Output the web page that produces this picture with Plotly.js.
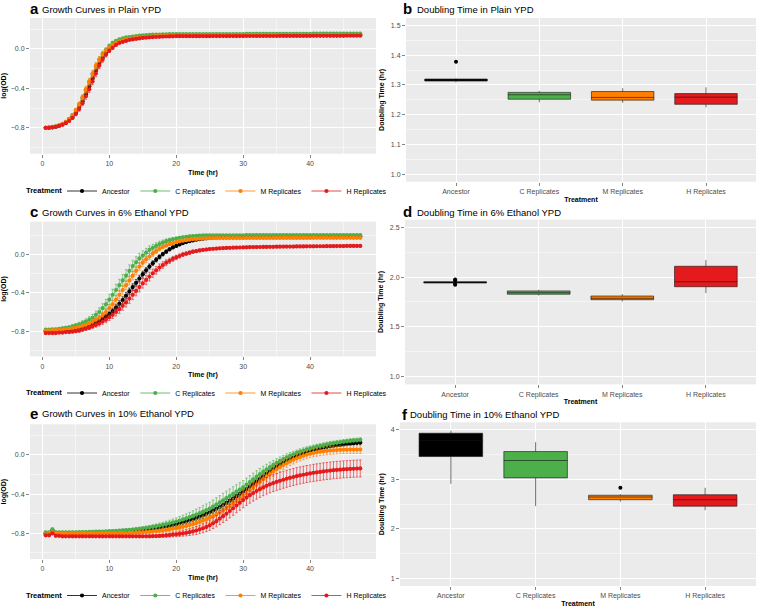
<!DOCTYPE html>
<html>
<head>
<meta charset="utf-8">
<script src="https://cdn.plot.ly/plotly-3.0.1.min.js"></script>
<style>html,body{margin:0;padding:0;background:#fff;}#chart{width:760px;height:610px;}</style>
</head>
<body>
<div id="chart"></div>
<script>
// ---------- data ----------
const treatments = ['Ancestor', 'C Replicates', 'M Replicates', 'H Replicates'];
const colors = ['#000000', '#4DAF4A', '#FF7F00', '#E41A1C'];

const timeHr = [
0.5,1,1.5,2,2.5,3,3.5,4,4.5,5,
5.5,6,6.5,7,7.5,8,8.5,9,9.5,10,
10.5,11,11.5,12,12.5,13,13.5,14,14.5,15,
15.5,16,16.5,17,17.5,18,18.5,19,19.5,20,
20.5,21,21.5,22,22.5,23,23.5,24,24.5,25,
25.5,26,26.5,27,27.5,28,28.5,29,29.5,30,
30.5,31,31.5,32,32.5,33,33.5,34,34.5,35,
35.5,36,36.5,37,37.5,38,38.5,39,39.5,40,
40.5,41,41.5,42,42.5,43,43.5,44,44.5,45,
45.5,46,46.5,47,47.5];

// Panel a: Plain YPD
const plainAnc = [
-0.80,-0.80,-0.795,-0.79,-0.78,-0.765,-0.75,-0.72,-0.69,-0.65,
-0.59,-0.53,-0.46,-0.38,-0.30,-0.22,-0.15,-0.09,-0.04,0.00,
0.03,0.055,0.07,0.08,0.09,0.10,0.105,0.11,0.115,0.118,
0.121,0.124,0.126,0.128,0.13,0.131,0.132,0.133,0.134,0.135,
0.135,0.135,0.135,0.135,0.135,0.135,0.135,0.135,0.135,0.135,
0.136,0.136,0.136,0.136,0.136,0.136,0.136,0.136,0.136,0.136,
0.137,0.137,0.137,0.137,0.137,0.137,0.137,0.137,0.137,0.137,
0.138,0.138,0.138,0.138,0.138,0.138,0.138,0.138,0.138,0.138,
0.139,0.139,0.139,0.139,0.139,0.139,0.139,0.139,0.139,0.139,
0.14,0.14,0.14,0.14,0.14];
const plainC = [
-0.80,-0.795,-0.79,-0.785,-0.775,-0.76,-0.74,-0.71,-0.67,-0.625,
-0.565,-0.50,-0.42,-0.34,-0.26,-0.18,-0.11,-0.05,-0.01,0.03,
0.06,0.08,0.095,0.105,0.115,0.12,0.125,0.13,0.134,0.137,
0.139,0.141,0.143,0.144,0.145,0.146,0.147,0.148,0.148,0.149,
0.149,0.149,0.149,0.149,0.149,0.149,0.149,0.149,0.149,0.149,
0.15,0.15,0.15,0.15,0.15,0.15,0.15,0.15,0.15,0.15,
0.151,0.151,0.151,0.151,0.151,0.151,0.151,0.151,0.151,0.151,
0.152,0.152,0.152,0.152,0.152,0.152,0.152,0.152,0.152,0.152,
0.153,0.153,0.153,0.153,0.153,0.153,0.153,0.153,0.153,0.153,
0.154,0.154,0.154,0.154,0.154];
const plainM = [
-0.80,-0.795,-0.79,-0.785,-0.775,-0.76,-0.74,-0.71,-0.67,-0.62,
-0.56,-0.49,-0.41,-0.33,-0.25,-0.17,-0.11,-0.06,-0.02,0.01,
0.04,0.06,0.075,0.085,0.095,0.10,0.105,0.11,0.114,0.118,
0.121,0.124,0.126,0.128,0.13,0.131,0.132,0.133,0.134,0.135,
0.136,0.136,0.136,0.136,0.136,0.136,0.136,0.136,0.136,0.136,
0.137,0.137,0.137,0.137,0.137,0.137,0.137,0.137,0.137,0.137,
0.138,0.138,0.138,0.138,0.138,0.138,0.138,0.138,0.138,0.138,
0.139,0.139,0.139,0.139,0.139,0.139,0.139,0.139,0.139,0.139,
0.14,0.14,0.14,0.14,0.14,0.14,0.14,0.14,0.14,0.14,
0.141,0.141,0.141,0.141,0.141];
const plainH = [
-0.80,-0.80,-0.795,-0.79,-0.78,-0.77,-0.75,-0.73,-0.70,-0.66,
-0.61,-0.55,-0.48,-0.41,-0.33,-0.25,-0.17,-0.11,-0.06,-0.02,
0.01,0.04,0.06,0.07,0.08,0.09,0.095,0.10,0.105,0.11,
0.113,0.116,0.118,0.12,0.122,0.124,0.125,0.126,0.127,0.128,
0.128,0.128,0.128,0.128,0.128,0.128,0.128,0.128,0.128,0.128,
0.129,0.129,0.129,0.129,0.129,0.129,0.129,0.129,0.129,0.129,
0.13,0.13,0.13,0.13,0.13,0.13,0.13,0.13,0.13,0.13,
0.131,0.131,0.131,0.131,0.131,0.131,0.131,0.131,0.131,0.131,
0.132,0.132,0.132,0.132,0.132,0.132,0.132,0.132,0.132,0.132,
0.133,0.133,0.133,0.133,0.133];
const plainErr = [
0.005,0.005,0.005,0.005,0.005,0.005,0.01,0.012,0.015,0.018,
0.022,0.026,0.03,0.032,0.033,0.032,0.03,0.027,0.022,0.018,
0.015,0.012,0.01,0.008,0.007,0.007,0.007,0.007,0.007,0.006,
0.005,0.005,0.005,0.005,0.005,0.005,0.005,0.005,0.005,0.005,
0.005,0.005,0.005,0.005,0.005,0.005,0.005,0.005,0.005,0.005,
0.005,0.005,0.005,0.005,0.005,0.005,0.005,0.005,0.005,0.005,
0.005,0.005,0.005,0.005,0.005,0.005,0.005,0.005,0.005,0.005,
0.005,0.005,0.005,0.005,0.005,0.005,0.005,0.005,0.005,0.005,
0.005,0.005,0.005,0.005,0.005,0.005,0.005,0.005,0.005,0.005,
0.005,0.005,0.005,0.005,0.005];

// Panel c: 6% Ethanol YPD
const eth6Anc = [
-0.80,-0.80,-0.80,-0.795,-0.795,-0.79,-0.79,-0.785,-0.78,-0.775,
-0.77,-0.76,-0.75,-0.74,-0.725,-0.71,-0.69,-0.67,-0.645,-0.62,
-0.59,-0.555,-0.515,-0.475,-0.43,-0.385,-0.34,-0.295,-0.25,-0.205,
-0.165,-0.125,-0.09,-0.055,-0.025,0.005,0.03,0.055,0.075,0.09,
0.105,0.12,0.13,0.14,0.148,0.155,0.16,0.165,0.17,0.174,
0.177,0.179,0.18,0.181,0.182,0.183,0.184,0.185,0.185,0.186,
0.187,0.187,0.187,0.187,0.187,0.187,0.187,0.187,0.187,0.187,
0.188,0.188,0.188,0.188,0.188,0.188,0.188,0.188,0.188,0.188,
0.189,0.189,0.189,0.189,0.189,0.189,0.189,0.189,0.189,0.189,
0.19,0.19,0.19,0.19,0.19];
const eth6C = [
-0.785,-0.785,-0.78,-0.78,-0.775,-0.77,-0.765,-0.76,-0.75,-0.74,
-0.73,-0.715,-0.70,-0.68,-0.66,-0.63,-0.60,-0.56,-0.52,-0.47,
-0.42,-0.37,-0.32,-0.27,-0.22,-0.17,-0.12,-0.08,-0.04,-0.01,
0.02,0.05,0.07,0.09,0.11,0.125,0.14,0.15,0.16,0.168,
0.175,0.18,0.185,0.19,0.193,0.196,0.198,0.20,0.201,0.202,
0.202,0.202,0.202,0.202,0.202,0.202,0.202,0.202,0.202,0.202,
0.203,0.203,0.203,0.203,0.203,0.203,0.203,0.203,0.203,0.203,
0.203,0.203,0.203,0.203,0.203,0.203,0.203,0.203,0.203,0.203,
0.204,0.204,0.204,0.204,0.204,0.204,0.204,0.204,0.204,0.204,
0.204,0.204,0.204,0.204,0.204];
const eth6M = [
-0.795,-0.795,-0.79,-0.79,-0.79,-0.785,-0.78,-0.775,-0.77,-0.765,
-0.755,-0.745,-0.735,-0.72,-0.70,-0.68,-0.66,-0.63,-0.60,-0.56,
-0.52,-0.47,-0.42,-0.37,-0.32,-0.27,-0.22,-0.17,-0.125,-0.085,
-0.05,-0.02,0.01,0.035,0.06,0.08,0.095,0.11,0.12,0.13,
0.138,0.145,0.15,0.155,0.16,0.163,0.166,0.168,0.17,0.171,
0.172,0.172,0.172,0.172,0.172,0.172,0.172,0.172,0.172,0.172,
0.173,0.173,0.173,0.173,0.173,0.173,0.173,0.173,0.173,0.173,
0.174,0.174,0.174,0.174,0.174,0.174,0.174,0.174,0.174,0.174,
0.175,0.175,0.175,0.175,0.175,0.175,0.175,0.175,0.175,0.175,
0.175,0.175,0.175,0.175,0.175];
const eth6H = [
-0.82,-0.82,-0.82,-0.82,-0.815,-0.815,-0.81,-0.81,-0.805,-0.80,
-0.795,-0.785,-0.775,-0.765,-0.75,-0.735,-0.72,-0.70,-0.68,-0.655,
-0.63,-0.60,-0.57,-0.535,-0.50,-0.46,-0.42,-0.38,-0.34,-0.30,
-0.265,-0.23,-0.195,-0.165,-0.135,-0.11,-0.085,-0.065,-0.045,-0.03,
-0.015,0.00,0.01,0.02,0.03,0.037,0.043,0.048,0.053,0.057,
0.06,0.063,0.065,0.067,0.069,0.07,0.072,0.073,0.074,0.075,
0.076,0.077,0.078,0.078,0.079,0.08,0.08,0.081,0.081,0.082,
0.082,0.083,0.083,0.084,0.084,0.085,0.085,0.085,0.086,0.086,
0.086,0.087,0.087,0.087,0.088,0.088,0.088,0.089,0.089,0.089,
0.09,0.09,0.09,0.09,0.09];
const eth6AncErr = [
0.006,0.006,0.006,0.006,0.006,0.007,0.007,0.008,0.008,0.009,
0.01,0.011,0.012,0.014,0.016,0.018,0.02,0.022,0.025,0.027,
0.029,0.031,0.033,0.034,0.035,0.035,0.035,0.034,0.033,0.031,
0.029,0.027,0.025,0.023,0.021,0.019,0.017,0.015,0.014,0.013,
0.012,0.011,0.01,0.01,0.009,0.009,0.008,0.008,0.008,0.007,
0.007,0.007,0.007,0.007,0.007,0.007,0.007,0.007,0.007,0.007,
0.007,0.007,0.007,0.007,0.007,0.007,0.007,0.007,0.007,0.007,
0.007,0.007,0.007,0.007,0.007,0.007,0.007,0.007,0.007,0.007,
0.007,0.007,0.007,0.007,0.007,0.007,0.007,0.007,0.007,0.007,
0.007,0.007,0.007,0.007,0.007];
const eth6CErr = [
0.01,0.01,0.01,0.012,0.012,0.014,0.015,0.016,0.018,0.02,
0.022,0.025,0.028,0.031,0.035,0.039,0.043,0.047,0.051,0.055,
0.058,0.06,0.062,0.063,0.063,0.062,0.06,0.057,0.053,0.049,
0.045,0.041,0.037,0.033,0.03,0.027,0.024,0.021,0.019,0.017,
0.015,0.014,0.013,0.012,0.011,0.011,0.01,0.01,0.01,0.01,
0.008,0.008,0.008,0.008,0.008,0.008,0.008,0.008,0.008,0.008,
0.008,0.008,0.008,0.008,0.008,0.008,0.008,0.008,0.008,0.008,
0.008,0.008,0.008,0.008,0.008,0.008,0.008,0.008,0.008,0.008,
0.008,0.008,0.008,0.008,0.008,0.008,0.008,0.008,0.008,0.008,
0.008,0.008,0.008,0.008,0.008];
const eth6MErr = [
0.008,0.008,0.008,0.008,0.009,0.009,0.01,0.01,0.011,0.012,
0.013,0.014,0.016,0.018,0.02,0.022,0.025,0.028,0.031,0.034,
0.037,0.04,0.042,0.044,0.045,0.045,0.044,0.042,0.04,0.037,
0.034,0.031,0.028,0.025,0.022,0.02,0.018,0.016,0.014,0.013,
0.012,0.011,0.01,0.01,0.009,0.009,0.009,0.008,0.008,0.008,
0.008,0.008,0.008,0.008,0.008,0.008,0.008,0.008,0.008,0.008,
0.008,0.008,0.008,0.008,0.008,0.008,0.008,0.008,0.008,0.008,
0.008,0.008,0.008,0.008,0.008,0.008,0.008,0.008,0.008,0.008,
0.008,0.008,0.008,0.008,0.008,0.008,0.008,0.008,0.008,0.008,
0.008,0.008,0.008,0.008,0.008];
const eth6HErr = [
0.01,0.01,0.01,0.01,0.01,0.011,0.011,0.012,0.012,0.013,
0.014,0.015,0.017,0.019,0.021,0.023,0.026,0.029,0.032,0.035,
0.038,0.041,0.044,0.046,0.048,0.05,0.051,0.051,0.051,0.05,
0.048,0.046,0.043,0.04,0.037,0.034,0.031,0.028,0.026,0.024,
0.022,0.02,0.019,0.018,0.017,0.016,0.015,0.014,0.014,0.013,
0.012,0.012,0.012,0.012,0.012,0.012,0.012,0.012,0.012,0.012,
0.012,0.012,0.012,0.012,0.012,0.012,0.012,0.012,0.012,0.012,
0.012,0.012,0.012,0.012,0.012,0.012,0.012,0.012,0.012,0.012,
0.012,0.012,0.012,0.012,0.012,0.012,0.012,0.012,0.012,0.012,
0.012,0.012,0.012,0.012,0.012];

// Panel e: 10% Ethanol YPD
const eth10Anc = [
-0.80,-0.80,-0.77,-0.795,-0.795,-0.795,-0.795,-0.795,-0.795,-0.795,
-0.795,-0.795,-0.794,-0.793,-0.792,-0.791,-0.79,-0.789,-0.788,-0.787,
-0.786,-0.785,-0.783,-0.781,-0.779,-0.777,-0.775,-0.772,-0.769,-0.766,
-0.762,-0.758,-0.753,-0.748,-0.742,-0.736,-0.729,-0.722,-0.714,-0.706,
-0.697,-0.688,-0.678,-0.667,-0.655,-0.643,-0.63,-0.616,-0.601,-0.585,
-0.568,-0.55,-0.531,-0.511,-0.49,-0.468,-0.445,-0.421,-0.397,-0.373,
-0.348,-0.322,-0.296,-0.27,-0.244,-0.218,-0.193,-0.168,-0.144,-0.121,
-0.099,-0.078,-0.058,-0.04,-0.023,-0.007,0.007,0.02,0.032,0.043,
0.053,0.062,0.07,0.077,0.084,0.09,0.095,0.1,0.104,0.108,
0.112,0.116,0.12,0.123,0.126];
const eth10C = [
-0.79,-0.79,-0.76,-0.79,-0.79,-0.79,-0.79,-0.79,-0.79,-0.79,
-0.788,-0.787,-0.786,-0.785,-0.784,-0.783,-0.782,-0.781,-0.78,-0.778,
-0.776,-0.774,-0.772,-0.77,-0.767,-0.764,-0.761,-0.757,-0.753,-0.749,
-0.744,-0.739,-0.733,-0.727,-0.72,-0.713,-0.705,-0.697,-0.688,-0.679,
-0.669,-0.658,-0.647,-0.635,-0.622,-0.608,-0.594,-0.579,-0.563,-0.547,
-0.527,-0.506,-0.485,-0.463,-0.441,-0.419,-0.397,-0.375,-0.353,-0.331,
-0.303,-0.276,-0.249,-0.222,-0.196,-0.171,-0.147,-0.124,-0.102,-0.081,
-0.061,-0.042,-0.025,-0.009,0.006,0.02,0.033,0.045,0.056,0.066,
0.076,0.085,0.093,0.101,0.108,0.115,0.121,0.127,0.132,0.137,
0.141,0.145,0.149,0.152,0.155];
const eth10M = [
-0.81,-0.80,-0.79,-0.80,-0.80,-0.80,-0.80,-0.80,-0.80,-0.80,
-0.80,-0.80,-0.80,-0.80,-0.80,-0.80,-0.80,-0.80,-0.80,-0.80,
-0.80,-0.80,-0.799,-0.798,-0.797,-0.796,-0.795,-0.793,-0.791,-0.789,
-0.787,-0.784,-0.781,-0.778,-0.774,-0.77,-0.765,-0.76,-0.754,-0.748,
-0.741,-0.733,-0.725,-0.716,-0.706,-0.695,-0.683,-0.67,-0.656,-0.641,
-0.625,-0.607,-0.588,-0.567,-0.545,-0.522,-0.498,-0.473,-0.447,-0.42,
-0.392,-0.363,-0.334,-0.305,-0.276,-0.248,-0.221,-0.195,-0.17,-0.146,
-0.124,-0.103,-0.084,-0.066,-0.05,-0.035,-0.021,-0.009,0.002,0.012,
0.02,0.027,0.033,0.038,0.042,0.045,0.048,0.05,0.052,0.053,
0.054,0.055,0.055,0.055,0.055];
const eth10H = [
-0.82,-0.82,-0.80,-0.825,-0.825,-0.83,-0.83,-0.83,-0.83,-0.83,
-0.83,-0.83,-0.83,-0.83,-0.83,-0.83,-0.83,-0.83,-0.83,-0.83,
-0.83,-0.83,-0.83,-0.83,-0.83,-0.83,-0.83,-0.83,-0.83,-0.83,
-0.83,-0.83,-0.829,-0.828,-0.826,-0.824,-0.821,-0.818,-0.814,-0.81,
-0.806,-0.801,-0.795,-0.788,-0.78,-0.771,-0.76,-0.748,-0.734,-0.718,
-0.697,-0.676,-0.65,-0.625,-0.60,-0.572,-0.544,-0.516,-0.488,-0.46,
-0.435,-0.411,-0.389,-0.368,-0.349,-0.331,-0.315,-0.3,-0.287,-0.275,
-0.264,-0.253,-0.243,-0.234,-0.225,-0.217,-0.209,-0.202,-0.195,-0.189,
-0.183,-0.178,-0.173,-0.168,-0.164,-0.16,-0.156,-0.153,-0.15,-0.147,
-0.145,-0.143,-0.141,-0.139,-0.138];
const eth10AncErr = [
0.008,0.008,0.008,0.008,0.008,0.008,0.008,0.008,0.008,0.008,
0.008,0.008,0.008,0.008,0.008,0.008,0.008,0.008,0.008,0.008,
0.009,0.009,0.01,0.01,0.011,0.011,0.012,0.013,0.014,0.015,
0.016,0.017,0.018,0.019,0.02,0.021,0.022,0.023,0.024,0.025,
0.026,0.027,0.028,0.029,0.03,0.031,0.032,0.033,0.034,0.035,
0.036,0.036,0.036,0.036,0.036,0.037,0.037,0.037,0.037,0.037,
0.036,0.035,0.034,0.033,0.032,0.031,0.03,0.029,0.028,0.027,
0.026,0.025,0.024,0.023,0.022,0.021,0.02,0.019,0.018,0.018,
0.017,0.017,0.017,0.017,0.017,0.017,0.017,0.017,0.017,0.017,
0.016,0.016,0.016,0.016,0.016];
const eth10CErr = [
0.01,0.01,0.015,0.01,0.01,0.01,0.01,0.01,0.01,0.01,
0.01,0.01,0.01,0.01,0.01,0.01,0.01,0.01,0.01,0.01,
0.011,0.011,0.012,0.012,0.013,0.013,0.014,0.015,0.016,0.017,
0.018,0.019,0.021,0.023,0.025,0.027,0.029,0.031,0.034,0.037,
0.04,0.043,0.046,0.049,0.052,0.055,0.058,0.061,0.063,0.065,
0.067,0.069,0.07,0.071,0.072,0.072,0.072,0.071,0.07,0.069,
0.067,0.065,0.063,0.061,0.058,0.055,0.052,0.049,0.046,0.043,
0.04,0.038,0.036,0.034,0.032,0.03,0.029,0.028,0.027,0.026,
0.025,0.024,0.023,0.023,0.022,0.022,0.021,0.021,0.02,0.02,
0.02,0.02,0.02,0.02,0.02];
const eth10MErr = [
0.01,0.01,0.01,0.01,0.01,0.01,0.01,0.01,0.01,0.01,
0.01,0.01,0.01,0.01,0.01,0.01,0.01,0.01,0.01,0.01,
0.01,0.01,0.011,0.011,0.012,0.012,0.013,0.014,0.015,0.016,
0.017,0.018,0.019,0.02,0.021,0.022,0.023,0.024,0.026,0.028,
0.03,0.032,0.034,0.036,0.038,0.04,0.042,0.044,0.046,0.048,
0.05,0.051,0.052,0.053,0.054,0.055,0.055,0.055,0.055,0.055,
0.055,0.054,0.053,0.052,0.051,0.05,0.049,0.048,0.047,0.046,
0.045,0.044,0.043,0.042,0.042,0.041,0.041,0.04,0.04,0.04,
0.04,0.04,0.04,0.04,0.04,0.04,0.04,0.04,0.04,0.04,
0.04,0.04,0.04,0.04,0.04];
const eth10HErr = [
0.01,0.01,0.01,0.01,0.01,0.01,0.01,0.01,0.01,0.01,
0.01,0.01,0.01,0.01,0.01,0.01,0.01,0.01,0.01,0.01,
0.01,0.01,0.01,0.01,0.01,0.01,0.01,0.01,0.01,0.01,
0.011,0.012,0.013,0.014,0.015,0.016,0.018,0.02,0.022,0.024,
0.026,0.028,0.031,0.034,0.037,0.04,0.043,0.046,0.049,0.052,
0.055,0.058,0.061,0.064,0.067,0.07,0.072,0.074,0.076,0.078,
0.08,0.081,0.082,0.083,0.084,0.085,0.085,0.086,0.086,0.086,
0.087,0.087,0.087,0.087,0.087,0.087,0.087,0.087,0.087,0.087,
0.087,0.087,0.087,0.087,0.087,0.087,0.087,0.087,0.087,0.087,
0.087,0.087,0.087,0.087,0.087];

// Doubling time box statistics (Ancestor, C, M, H)
const plainQ1     = [1.313, 1.252, 1.249, 1.235];
const plainMedian = [1.317, 1.267, 1.258, 1.259];
const plainQ3     = [1.320, 1.275, 1.278, 1.271];
const plainLo     = [1.309, 1.242, 1.240, 1.225];
const plainHi     = [1.322, 1.280, 1.289, 1.292];
const plainOutCat = ['Ancestor'];
const plainOutVal = [1.378];

const eth6Q1     = [1.940, 1.828, 1.773, 1.903];
const eth6Median = [1.947, 1.843, 1.787, 1.953];
const eth6Q3     = [1.953, 1.861, 1.810, 2.108];
const eth6Lo     = [1.938, 1.815, 1.755, 1.840];
const eth6Hi     = [1.955, 1.872, 1.830, 2.170];
const eth6OutCat = ['Ancestor', 'Ancestor', 'Ancestor', 'Ancestor'];
const eth6OutVal = [1.922, 1.930, 1.965, 1.975];

const eth10Q1     = [3.46, 3.03, 2.59, 2.46];
const eth10Median = [3.78, 3.38, 2.645, 2.59];
const eth10Q3     = [3.93, 3.56, 2.68, 2.69];
const eth10Lo     = [2.91, 2.46, 2.55, 2.38];
const eth10Hi     = [3.98, 3.75, 2.70, 2.83];
const eth10OutCat = ['M Replicates'];
const eth10OutVal = [2.83];

// ---------- build ----------
const FONT = 'Liberation Sans, Arial, Helvetica, sans-serif';
const W = 760, H = 610;
const px = v => v / W;
const py = v => 1 - v / H;

function growthTraces(xa, ya, series, errs, leg) {
  return series.map((ys, i) => ({
    type: 'scatter', mode: 'lines+markers', x: timeHr, y: ys,
    xaxis: xa, yaxis: ya, name: treatments[i], legend: leg,
    line: {color: colors[i], width: 0.8},
    marker: {color: colors[i], size: 4.2},
    error_y: {type: 'data', array: errs[i], visible: true, color: colors[i], thickness: 0.6, width: 1.2}
  }));
}
function boxTraces(xa, ya, q1, med, q3, lo, hi, outCat, outVal) {
  const tr = treatments.map((c, i) => ({
    type: 'box', x: [c], q1: [q1[i]], median: [med[i]], q3: [q3[i]],
    lowerfence: [lo[i]], upperfence: [hi[i]], xaxis: xa, yaxis: ya,
    width: 0.75, whiskerwidth: 0, boxpoints: false, showlegend: false,
    fillcolor: colors[i], line: {color: 'rgba(20,20,20,0.6)', width: 1}
  }));
  tr.push({type: 'scatter', mode: 'markers', x: outCat, y: outVal, xaxis: xa, yaxis: ya,
    showlegend: false, marker: {color: '#000', size: 4}});
  return tr;
}

const data = [].concat(
  growthTraces('x', 'y', [plainAnc, plainC, plainM, plainH], [plainErr, plainErr, plainErr, plainErr], 'legend'),
  boxTraces('x2', 'y2', plainQ1, plainMedian, plainQ3, plainLo, plainHi, plainOutCat, plainOutVal),
  growthTraces('x3', 'y3', [eth6Anc, eth6C, eth6M, eth6H], [eth6AncErr, eth6CErr, eth6MErr, eth6HErr], 'legend2'),
  boxTraces('x4', 'y4', eth6Q1, eth6Median, eth6Q3, eth6Lo, eth6Hi, eth6OutCat, eth6OutVal),
  growthTraces('x5', 'y5', [eth10Anc, eth10C, eth10M, eth10H], [eth10AncErr, eth10CErr, eth10MErr, eth10HErr], 'legend3'),
  boxTraces('x6', 'y6', eth10Q1, eth10Median, eth10Q3, eth10Lo, eth10Hi, eth10OutCat, eth10OutVal)
);

const tickCommon = {
  ticks: 'outside', ticklen: 3, tickwidth: 0.6, tickcolor: '#333333',
  tickfont: {size: 7, color: '#4D4D4D', family: FONT},
  showgrid: true, gridcolor: '#FFFFFF', gridwidth: 1,
  zeroline: false, showline: false
};
function timeAxis(dom, anchor) {
  return Object.assign({}, tickCommon, {
    domain: dom, anchor: anchor, range: [-1.85, 49.85], tick0: 0, dtick: 10,
    minor: {tick0: 0, dtick: 5, showgrid: true, gridcolor: '#FFFFFF', gridwidth: 0.5},
    title: {text: '<b>Time (hr)</b>', font: {size: 7, color: '#000'}, standoff: 3}
  });
}
function odAxis(dom, anchor, rng) {
  return Object.assign({}, tickCommon, {
    domain: dom, anchor: anchor, range: rng, tick0: 0, dtick: 0.4, tickformat: '.1f',
    minor: {tick0: 0, dtick: 0.2, showgrid: true, gridcolor: '#FFFFFF', gridwidth: 0.5},
    title: {text: '<b>log(OD)</b>', font: {size: 7, color: '#000'}, standoff: 5}
  });
}
function catAxis(dom, anchor) {
  return Object.assign({}, tickCommon, {
    domain: dom, anchor: anchor, type: 'category', categoryorder: 'array', categoryarray: treatments,
    range: [-0.6, 3.6],
    title: {text: '<b>Treatment</b>', font: {size: 7, color: '#000'}, standoff: 1}
  });
}
function dtAxis(dom, anchor, rng, dt, fmt) {
  return Object.assign({}, tickCommon, {
    domain: dom, anchor: anchor, range: rng, tick0: 0, dtick: dt, tickformat: fmt,
    minor: {tick0: 0, dtick: dt / 2, showgrid: true, gridcolor: '#FFFFFF', gridwidth: 0.5},
    title: {text: '<b>Doubling Time (hr)</b>', font: {size: 7, color: '#000'}, standoff: 5}
  });
}
function legendAt(yPix) {
  return {
    orientation: 'h', x: px(62), xanchor: 'left', y: py(yPix), yanchor: 'middle',
    font: {size: 7, color: '#000', family: FONT}, bgcolor: 'rgba(0,0,0,0)',
    itemwidth: 30, tracegroupgap: 0
  };
}
function legendTitle(yPix) {
  return {xref: 'paper', yref: 'paper', x: px(64), y: py(yPix), xanchor: 'right', yanchor: 'middle',
    showarrow: false, text: '<b>Treatment</b>', font: {size: 7.5, color: '#000', family: FONT}};
}
function panelTitle(letter, text, xl, xt, yc) {
  return [
    {xref: 'paper', yref: 'paper', x: px(xl), y: py(yc), xanchor: 'left', yanchor: 'middle', showarrow: false,
     text: '<b>' + letter + '</b>', font: {size: 15, color: '#000', family: FONT}},
    {xref: 'paper', yref: 'paper', x: px(xt), y: py(yc + 0.5), xanchor: 'left', yanchor: 'middle', showarrow: false,
     text: text, font: {size: 9.5, color: '#000', family: FONT}}
  ];
}

const leftX = [px(30), px(376)];
const layout = {
  width: W, height: H, margin: {l: 0, r: 0, t: 0, b: 0},
  paper_bgcolor: '#FFFFFF', plot_bgcolor: '#EBEBEB',
  font: {family: FONT, color: '#000'},
  boxmode: 'overlay',
  xaxis: timeAxis(leftX, 'y'),
  yaxis: odAxis([py(154), py(18)], 'x', [-1.0625, 0.3125]),
  xaxis2: catAxis([px(406), px(756)], 'y2'),
  yaxis2: dtAxis([py(182), py(18)], 'x2', [0.975, 1.525], 0.1, '.1f'),
  xaxis3: timeAxis(leftX, 'y3'),
  yaxis3: odAxis([py(357), py(222)], 'x3', [-1.064, 0.344]),
  xaxis4: catAxis([px(405), px(756)], 'y4'),
  yaxis4: dtAxis([py(385), py(220)], 'x4', [0.925, 2.575], 0.5, '.1f'),
  xaxis5: timeAxis(leftX, 'y5'),
  yaxis5: odAxis([py(560), py(425)], 'x5', [-1.0625, 0.3125]),
  xaxis6: catAxis([px(400), px(756)], 'y6'),
  yaxis6: dtAxis([py(587), py(423)], 'x6', [0.85, 4.15], 1, 'd'),
  legend: legendAt(191),
  legend2: legendAt(393),
  legend3: legendAt(596),
  annotations: [].concat(
    panelTitle('a', 'Growth Curves in Plain YPD', 28, 40, 9),
    panelTitle('b', 'Doubling Time in Plain YPD', 401, 415, 9),
    panelTitle('c', 'Growth Curves in 6% Ethanol YPD', 28, 40, 212),
    panelTitle('d', 'Doubling Time in 6% Ethanol YPD', 401, 415, 212),
    panelTitle('e', 'Growth Curves in 10% Ethanol YPD', 28, 40, 414),
    panelTitle('f', 'Doubling Time in 10% Ethanol YPD', 400, 408, 415),
    [legendTitle(191), legendTitle(393), legendTitle(596)]
  ),
  showlegend: true
};

Plotly.newPlot('chart', data, layout, {staticPlot: true, displayModeBar: false});
</script>
</body>
</html>
